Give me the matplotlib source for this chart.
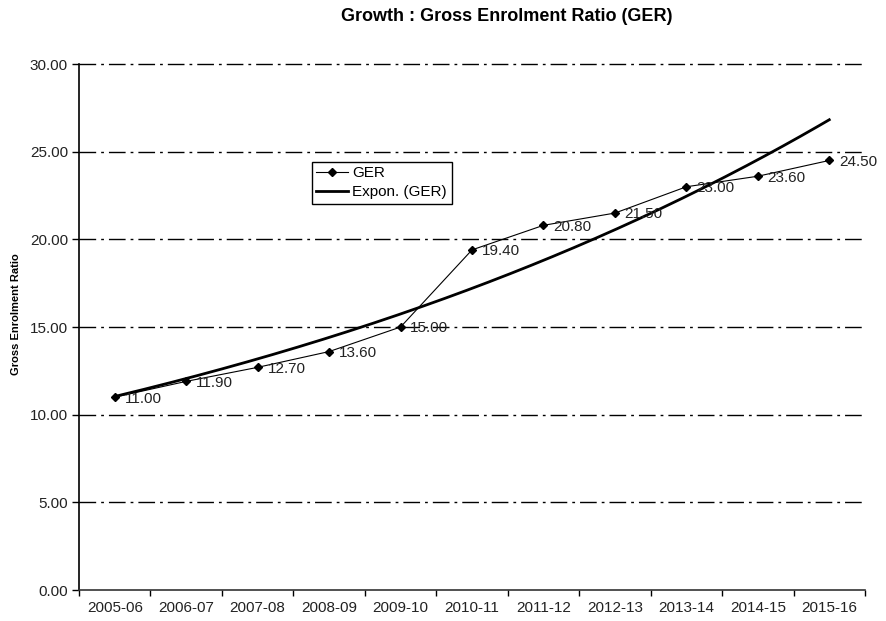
import matplotlib
matplotlib.use("Agg")
import matplotlib.pyplot as plt
import numpy as np

plt.rcParams["font.family"] = ["Liberation Sans", "DejaVu Sans"]

years = ["2005-06", "2006-07", "2007-08", "2008-09", "2009-10", "2010-11",
         "2011-12", "2012-13", "2013-14", "2014-15", "2015-16"]
ger = [11.00, 11.90, 12.70, 13.60, 15.00, 19.40, 20.80, 21.50, 23.00, 23.60, 24.50]
y_ticks = [0, 5, 10, 15, 20, 25, 30]

x = np.arange(len(years))
y = np.array(ger)

# exponential trendline: least squares fit on log(y)
slope, intercept = np.polyfit(x, np.log(y), 1)
x_fit = np.linspace(x[0], x[-1], 200)
y_fit = np.exp(intercept + slope * x_fit)

fig = plt.figure(figsize=(8.87, 6.21), dpi=100)
ax = fig.add_axes([0.0891, 0.0499, 0.8861, 0.8470])

for v in y_ticks[1:]:
    ax.axhline(v, color="black", linewidth=1.0, dashes=(12, 3.6, 2, 3.6),
               zorder=1, clip_on=False)

ax.plot(x, y, color="black", linewidth=0.8, marker="D", markersize=3.8,
        label="GER", zorder=3)
ax.plot(x_fit, y_fit, color="black", linewidth=2.0, label="Expon. (GER)",
        zorder=2)

for xi, yi in zip(x, y):
    ax.annotate(f"{yi:.2f}", (xi, yi), xytext=(7, -1),
                textcoords="offset points", fontsize=11, va="center",
                ha="left", color="#222222", zorder=4)

ax.set_xlim(-0.5, len(years) - 0.5)
ax.set_ylim(0, 30)
ax.set_yticks(y_ticks)
ax.set_yticklabels([f"{v:.2f}" for v in y_ticks], fontsize=11,
                   color="#222222")
ax.set_xticks(x)
ax.set_xticklabels(years, fontsize=11, color="#222222")
ax.set_xticks(np.arange(-0.5, len(years)), minor=True)
ax.tick_params(axis="x", which="major", length=0, pad=8)
ax.tick_params(axis="x", which="minor", length=4, width=1, direction="out")
ax.tick_params(axis="y", length=5, width=1, direction="out", pad=3)

for side in ("top", "right"):
    ax.spines[side].set_visible(False)
ax.spines["left"].set_linewidth(1.2)
ax.spines["bottom"].set_linewidth(1.2)
ax.spines["bottom"].set_color("#333333")

ax.set_ylabel("Gross Enrolment Ratio", fontsize=8, fontweight="bold")
ax.yaxis.set_label_coords(-0.074, 0.525)
fig.text(0.5716, 0.974, "Growth : Gross Enrolment Ratio (GER)", ha="center",
         va="center", fontsize=13, fontweight="bold")

leg = ax.legend(loc="upper left", bbox_to_anchor=(0.296, 0.814),
                borderaxespad=0, fontsize=11, handlelength=2.1,
                handletextpad=0.26, borderpad=0.3, labelspacing=0.3,
                fancybox=False, framealpha=1)
leg.get_frame().set_edgecolor("black")
leg.get_frame().set_linewidth(1.0)

fig.savefig("out.png", dpi=100)
